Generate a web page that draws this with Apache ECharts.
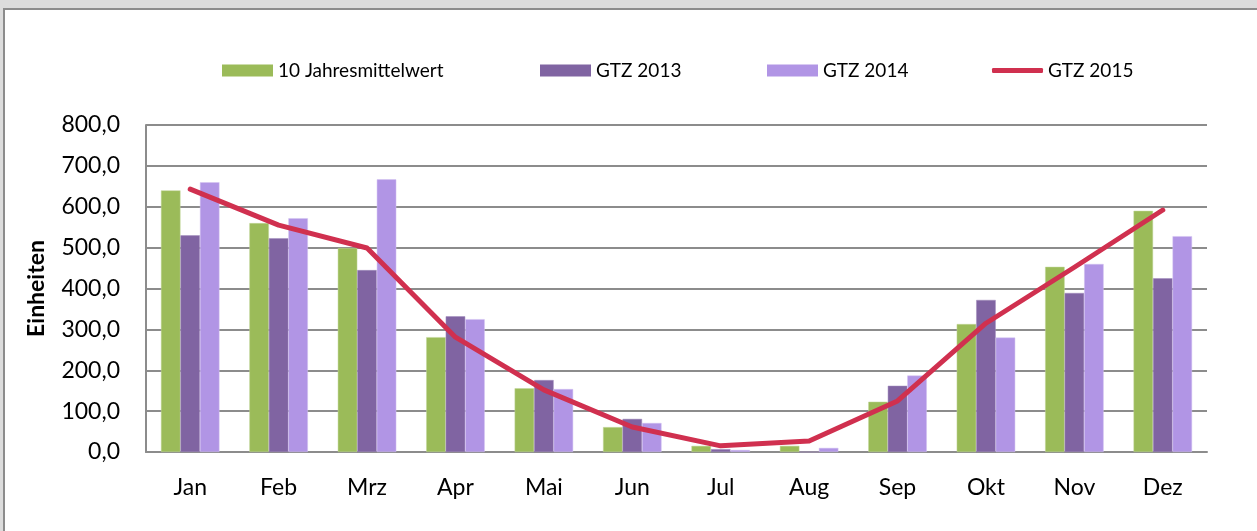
<!DOCTYPE html>
<html><head><meta charset="utf-8">
<script src="https://cdn.jsdelivr.net/npm/echarts@6/dist/echarts.min.js"></script>
<style>
html,body{margin:0;padding:0;background:#dcdcdc;width:1257px;height:531px;overflow:hidden;}
#frame{position:absolute;left:3px;top:8px;width:1260px;height:530px;background:#fff;border-left:2px solid #8c8c8c;border-top:2px solid #8c8c8c;}
#chart{position:absolute;left:0;top:0;width:1257px;height:531px;}
</style></head>
<body>
<div id="frame"></div>
<div id="chart"></div>
<script>
const categories = ['Jan','Feb','Mrz','Apr','Mai','Jun','Jul','Aug','Sep','Okt','Nov','Dez'];
const mittel10 = [640, 560, 499, 281, 156, 61, 15, 15, 123, 313, 453, 590];
const gtz2013 = [530, 523, 445, 332, 176, 81, 7, 0, 162, 372, 389, 425];
const gtz2014 = [660, 572, 667, 325, 154, 71, 5, 10, 187, 280, 460, 528];
const gtz2015 = [643, 555, 499, 281, 152, 61, 15, 27, 125, 315, 452, 592];
const seriesNames = ['10 Jahresmittelwert','GTZ 2013','GTZ 2014','GTZ 2015'];
const yTicks = [0,100,200,300,400,500,600,700,800];

const font = 'Lato, "Open Sans", sans-serif';
const chart = echarts.init(document.getElementById('chart'), null, {renderer:'canvas'});
const legendPos = [222, 540, 767, 992];
const legends = seriesNames.map((n,i)=>({
  data:[n], left: legendPos[i], top: 61, padding: 0, itemWidth: 51, itemHeight: i===3?5:12, itemGap: 4,
  icon: i===3 ? 'roundRect' : 'rect',
  itemStyle:{borderWidth:0},
  textStyle:{fontFamily:font, fontSize:19, color:'#000'}
}));
const barBase = {type:'bar', barWidth: 19.5, barGap: '0%', barCategoryGap:'33%'};
chart.setOption({
  animation:false,
  backgroundColor:'transparent',
  legend: legends,
  grid:{left:146, right:50, top:125, bottom:79, containLabel:false},
  xAxis:{type:'category', data:categories,
    axisLine:{show:true, lineStyle:{color:'#8c8c8c', width:2}},
    axisTick:{show:false},
    axisLabel:{fontFamily:font, fontSize:23, color:'#000', margin:24}},
  yAxis:{type:'value', min:0, max:800, interval:100,
    name:'Einheiten', nameLocation:'middle', nameGap:98, nameRotate:90,
    nameTextStyle:{fontFamily:font, fontSize:23, fontWeight:'bold', color:'#000'},
    axisLine:{show:true, lineStyle:{color:'#8c8c8c', width:2}},
    axisTick:{show:false},
    splitLine:{lineStyle:{color:'#8c8c8c', width:2}},
    axisLabel:{fontFamily:font, fontSize:23, color:'#000', margin:26,
      formatter: v => yTicks.includes(v) ? v.toFixed(1).replace('.',',') : ''}},
  series:[
    Object.assign({}, barBase, {name:seriesNames[0], data:mittel10, itemStyle:{color:'#9bbb59', borderColor:'#c3d69b', borderWidth:0.5}}),
    Object.assign({}, barBase, {name:seriesNames[1], data:gtz2013, itemStyle:{color:'#8064a2', borderColor:'#a08cbd', borderWidth:0.5}}),
    Object.assign({}, barBase, {name:seriesNames[2], data:gtz2014, itemStyle:{color:'#b195e5', borderColor:'#d2c2f0', borderWidth:0.5}}),
    {type:'line', name:seriesNames[3], data:gtz2015, showSymbol:false, symbol:'none', z:5,
      lineStyle:{color:'#d0304f', width:5, cap:'round', join:'round'}, itemStyle:{color:'#d0304f'}}
  ]
});
</script>
</body></html>
